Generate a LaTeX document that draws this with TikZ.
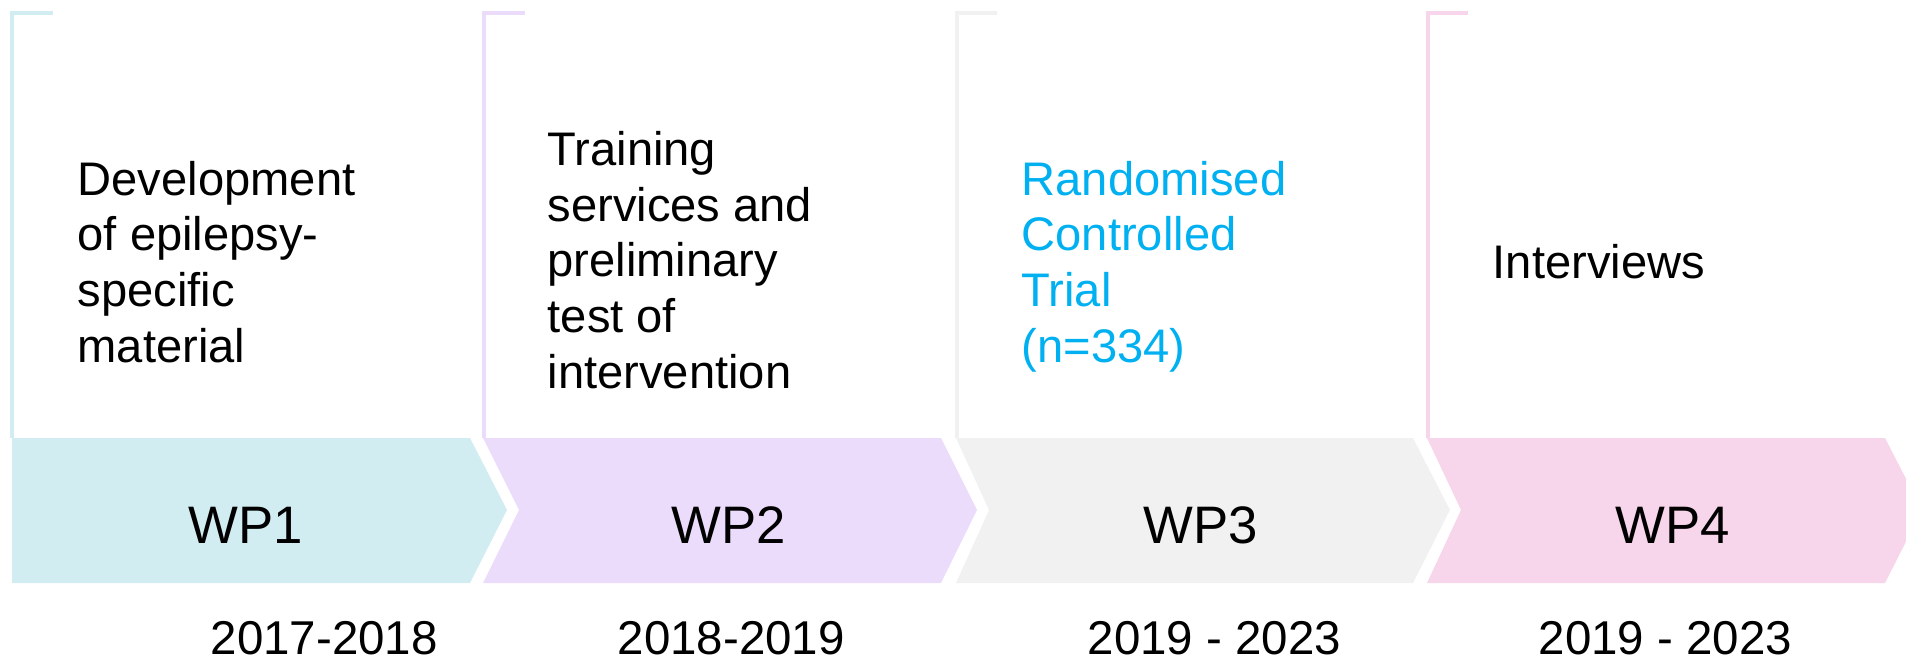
\documentclass[tikz,border=0pt]{standalone}
\usepackage{fontspec}
\setmainfont{Liberation Sans}
\definecolor{wpteal}{RGB}{210,237,242}
\definecolor{wplilac}{RGB}{236,220,252}
\definecolor{wpgrey}{RGB}{241,241,241}
\definecolor{wppink}{RGB}{247,213,234}
\definecolor{rctblue}{RGB}{0,176,240}

\begin{document}
\begin{tikzpicture}[x=0.01cm,y=-0.01cm,
  bracket/.style={line width=1pt},
  desc/.style={anchor=base west,align=left,inner sep=0pt,
    font=\fontsize{13.4}{15.8}\selectfont},
  wplabel/.style={anchor=base,inner sep=0pt,font=\fontsize{15}{18}\selectfont},
  yearlabel/.style={anchor=base west,inner sep=0pt,
    font=\fontsize{13.5}{16}\selectfont}]

  \useasboundingbox (0,0) rectangle (1906,664);
  \clip (0,0) rectangle (1906,664);

  % chevrons
  \fill[wpteal] (12,438) -- (470,438) -- (507,510) -- (470,583) -- (12,583) -- cycle;
  \fill[wplilac] (483,438) -- (941,438) -- (977,510) -- (941,583) -- (483,583) -- (519,510) -- cycle;
  \fill[wpgrey] (956,438) -- (1413,438) -- (1450,510) -- (1413,583) -- (956,583) -- (989,510) -- cycle;
  \fill[wppink] (1427,438) -- (1885,438) -- (1922,510) -- (1885,583) -- (1427,583) -- (1461,510) -- cycle;

  % brackets above
  \draw[bracket,wpteal] (12,438) -- (12,13) -- (53,13);
  \draw[bracket,wplilac] (484,438) -- (484,13) -- (525,13);
  \draw[bracket,wpgrey] (957,438) -- (957,13) -- (997,13);
  \draw[bracket,wppink] (1428,438) -- (1428,13) -- (1468,13);

  \node[wplabel] (wp1) at (246,543) {WP1};
  \node[wplabel] (wp2) at (729,543) {WP2};
  \node[wplabel] (wp3) at (1201,543) {WP3};
  \node[wplabel] (wp4) at (1673,543) {WP4};

  % multi-line texts sit on their last baseline
  \node[desc] (desc1) at (77,362) {Development\\of epilepsy-\\specific\\material};
  \node[desc] (desc2) at (547,388) {Training\\services and\\preliminary\\test of\\intervention};
  \node[desc,text=rctblue] (desc3) at (1021,362) {Randomised\\Controlled\\Trial\\(n=334)};
  \node[desc] (desc4) at (1492,278) {Interviews};

  \node[yearlabel] (year1) at (210,654) {2017-2018};
  \node[yearlabel] (year2) at (617,654) {2018-2019};
  \node[yearlabel] (year3) at (1087,654) {2019 - 2023};
  \node[yearlabel] (year4) at (1538,654) {2019 - 2023};

\end{tikzpicture}
\end{document}
